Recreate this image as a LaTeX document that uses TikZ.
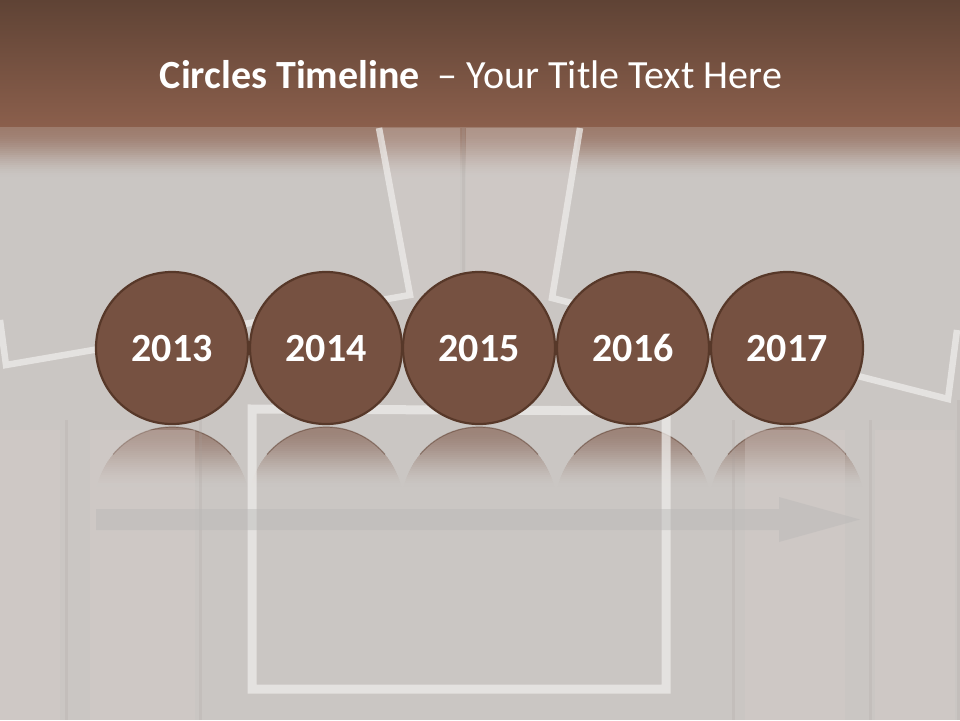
\documentclass[tikz,border=0pt]{standalone}
\usepackage{fontspec}
\setmainfont{Carlito}
\definecolor{bgcol}{HTML}{CAC6C3}
\definecolor{bandtop}{HTML}{5F4335}
\definecolor{bandbot}{HTML}{8B5F4C}
\definecolor{circfill}{HTML}{765141}
\definecolor{circline}{HTML}{573829}
\definecolor{refltop}{HTML}{9C8378}
\definecolor{framecol}{HTML}{EEECEA}
\definecolor{seamcol}{HTML}{A89F9B}
\definecolor{lightcol}{HTML}{D9CFCC}
\definecolor{arrowcol}{HTML}{B9B8B7}
\tikzset{
  yearcircle/.style={circle, minimum size=152pt, inner sep=0pt, fill=circfill,
    draw=circline, line width=2.2pt, text=white, text height=26pt, text depth=0pt,
    font=\fontsize{40}{48}\selectfont\bfseries},
  refledge/.style={draw=circline, line width=1.2pt, opacity=0.45},
  frameline/.style={draw=framecol, line width=6.5pt, opacity=0.75, line join=miter},
  seam/.style={draw=seamcol, line width=3pt, opacity=0.2},
  lightband/.style={fill=lightcol, opacity=0.3},
  titletext/.style={text=white, font=\fontsize{40}{48}\selectfont, inner sep=0pt}
}
\begin{document}
\begin{tikzpicture}[x=1pt,y=-1pt]
\useasboundingbox (0,0) rectangle (960,720);
% background
\fill[bgcol] (0,0) rectangle (960,720);
% title band
\shade[top color=bandtop, bottom color=bandbot] (0,0) rectangle (960,127);
\foreach \i in {0,...,26}{
  \pgfmathsetmacro\tval{\i/26}
  \pgfmathtruncatemacro\pval{72*(1-3*\tval*\tval+2*\tval*\tval*\tval)}
  \fill[bandbot!\pval!bgcol] (0,126.5+2*\i) rectangle (960,129+2*\i);
}
\node[titletext] (title) at (471,75) {\textbf{Circles Timeline}\ \ – Your Title Text Here};
% reflections
\foreach \cx in {172,326,479,633,787}{
  \begin{scope}
    \clip (\cx,504) ++(-167:77) arc[start angle=-167, end angle=-13, radius=77] -- cycle;
    \foreach \i in {0,...,31}{
      \pgfmathsetmacro\tval{\i/31}
      \pgfmathtruncatemacro\pval{100*(1-3*\tval*\tval+2*\tval*\tval*\tval)}
      \fill[refltop!\pval!bgcol] (\cx-80,427+2*\i) rectangle (\cx+80,429.5+2*\i);
    }
  \end{scope}
  \path[refledge] (\cx,504) ++(-140:77) arc[start angle=-140, end angle=-40, radius=77];
}
% wood hints
\fill[lightband, opacity=0.25] (379,128) -- (460,128) -- (460,300) -- (410,300) -- cycle;
\fill[lightband] (466,128) -- (580,128) -- (552,300) -- (466,300) -- cycle;
\draw[seam] (463,128) -- (463,280);
\fill[lightband] (0,430) rectangle (60,720);
\fill[lightband] (90,430) rectangle (195,720);
\fill[lightband] (745,430) rectangle (845,720);
\fill[lightband] (875,430) rectangle (955,720);
\draw[seam] (66,420) -- (66,720);
\draw[seam] (200,420) -- (200,720);
\draw[seam] (733,420) -- (733,720);
\draw[seam] (870,420) -- (870,720);
\draw[seam] (958,400) -- (958,720);
% photo frames
\draw[frameline] (379,128) -- (410,295) -- (250,323) -- (6,365) -- (0,320);
\draw[frameline] (580,128) -- (552,298) -- (948,399) -- (957,330);
\draw[frameline, line width=9pt] (252,409) -- (666,411) -- (666,689) -- (252,689) -- cycle;
% arrow
\fill[arrowcol, opacity=0.45] (96,509) -- (779,509) -- (779,497) -- (860,519.5) -- (779,542) -- (779,530) -- (96,530) -- cycle;
% circles
\node[yearcircle] (y2013) at (172,348) {2013};
\node[yearcircle] (y2014) at (326,348) {2014};
\node[yearcircle] (y2015) at (479,348) {2015};
\node[yearcircle] (y2016) at (633,348) {2016};
\node[yearcircle] (y2017) at (787,348) {2017};
\end{tikzpicture}
\end{document}
